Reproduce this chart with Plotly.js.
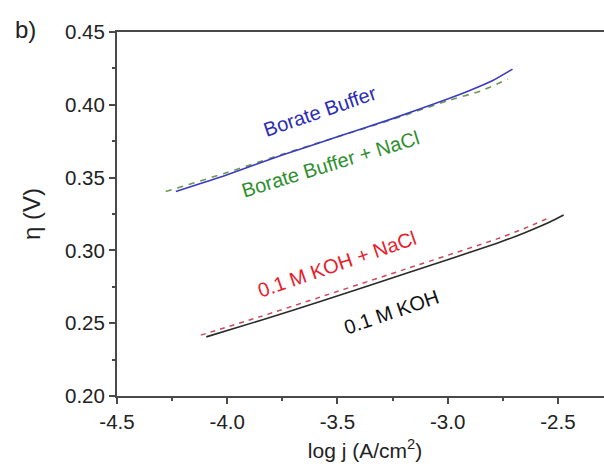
<!DOCTYPE html>
<html>
<head>
<meta charset="utf-8">
<script src="https://cdn.plot.ly/plotly-3.0.1.min.js"></script>
<style>
html,body{margin:0;padding:0;overflow:hidden;background:#fff;width:604px;height:468px;}
#chart{width:613px;height:468px;}
</style>
</head>
<body>
<div id="chart"></div>
<script>
// Borate Buffer (blue, solid)
const borateX = [-4.233, -4.0, -3.75, -3.5, -3.25, -3.0, -2.9, -2.8, -2.706];
const borateY = [0.3405, 0.352, 0.3655, 0.378, 0.3905, 0.4040, 0.4098, 0.4163, 0.4245];
// Borate Buffer + NaCl (green, dashed)
const borateNaClX = [-4.279, -4.0, -3.75, -3.5, -3.25, -3.0, -2.85, -2.726];
const borateNaClY = [0.3404, 0.3535, 0.366, 0.378, 0.390, 0.4028, 0.4095, 0.4177];
// 0.1 M KOH (black, solid)
const kohX = [-4.095, -3.85, -3.557, -3.17, -2.776, -2.65, -2.534, -2.474];
const kohY = [0.2406, 0.2519, 0.2659, 0.2852, 0.3049, 0.3122, 0.3197, 0.3243];
// 0.1 M KOH + NaCl (red, dashed)
const kohNaClX = [-4.12, -3.85, -3.557, -3.17, -2.776, -2.65, -2.534];
const kohNaClY = [0.2418, 0.2545, 0.2690, 0.2882, 0.3079, 0.3152, 0.3228];

const seriesNames = ["Borate Buffer", "Borate Buffer + NaCl", "0.1 M KOH + NaCl", "0.1 M KOH"];
const xTickVals = [-4.5, -4.0, -3.5, -3.0, -2.5];
const xTickText = ["-4.5", "-4.0", "-3.5", "-3.0", "-2.5"];
const yTickVals = [0.20, 0.25, 0.30, 0.35, 0.40, 0.45];
const yTickText = ["0.20", "0.25", "0.30", "0.35", "0.40", "0.45"];

const FONT = "Liberation Sans, Arial, Helvetica, sans-serif";
const axisColor = "#4a4a4a";
const TICK = 20.5;

const traces = [
  {x: borateNaClX, y: borateNaClY, mode: "lines", name: seriesNames[1],
   line: {color: "#6a9a52", width: 1.6, dash: "6px,6px", shape: "spline", smoothing: 0.5}},
  {x: borateX, y: borateY, mode: "lines", name: seriesNames[0],
   line: {color: "#3b3bc4", width: 1.6, shape: "spline", smoothing: 0.5}},
  {x: kohX, y: kohY, mode: "lines", name: seriesNames[3],
   line: {color: "#2a2a2a", width: 1.6, shape: "spline", smoothing: 0.5}},
  {x: kohNaClX, y: kohNaClY, mode: "lines", name: seriesNames[2],
   line: {color: "#cc4a5a", width: 1.5, dash: "5px,5px", shape: "spline", smoothing: 0.5}}
];

const layout = {
  width: 613, height: 468,
  margin: {l: 117, r: 0, t: 32, b: 72},
  paper_bgcolor: "#fff", plot_bgcolor: "#fff",
  showlegend: false,
  font: {family: FONT, color: "#222", size: TICK},
  xaxis: {
    range: [-4.5, -2.25], tickvals: xTickVals, ticktext: xTickText,
    showgrid: false, zeroline: false,
    showline: true, linecolor: axisColor, linewidth: 2, mirror: true,
    ticks: "outside", ticklen: 6, tickwidth: 2, tickcolor: axisColor,
    minor: {dtick: 0.25, ticks: "outside", ticklen: 3, tickwidth: 2, tickcolor: axisColor},
    tickfont: {size: TICK, family: FONT, color: "#222"},
    title: {text: "log j (A/cm<sup>2</sup>)", font: {size: 21, family: FONT, color: "#222"}, standoff: 12}
  },
  yaxis: {
    range: [0.20, 0.45], tickvals: yTickVals, ticktext: yTickText,
    showgrid: false, zeroline: false,
    showline: true, linecolor: axisColor, linewidth: 2,
    ticks: "outside", ticklen: 6, tickwidth: 2, tickcolor: axisColor,
    minor: {dtick: 0.025, ticks: "outside", ticklen: 3, tickwidth: 2, tickcolor: axisColor},
    tickfont: {size: TICK, family: FONT, color: "#222"},
    title: {text: "η (V)", font: {size: 24, family: FONT, color: "#222"}, standoff: 18}
  },
  annotations: [
    {x: -3.577, y: 0.3959, xref: "x", yref: "y", text: seriesNames[0], showarrow: false,
     textangle: -19, font: {size: 20, family: FONT, color: "#2b2bb8"}},
    {x: -3.532, y: 0.3595, xref: "x", yref: "y", text: seriesNames[1], showarrow: false,
     textangle: -17, font: {size: 20, family: FONT, color: "#2f8f2f"}},
    {x: -3.5, y: 0.2904, xref: "x", yref: "y", text: seriesNames[2], showarrow: false,
     textangle: -19, font: {size: 20, family: FONT, color: "#e8202c"}},
    {x: -3.255, y: 0.2576, xref: "x", yref: "y", text: seriesNames[3], showarrow: false,
     textangle: -19, font: {size: 20, family: FONT, color: "#111"}},
    {x: -0.21, y: 1.008, xref: "paper", yref: "paper", text: "b)", showarrow: false,
     xanchor: "left", yanchor: "middle", font: {size: 24, family: FONT, color: "#222"}}
  ]
};

Plotly.newPlot("chart", traces, layout, {displayModeBar: false, staticPlot: true});
</script>
</body>
</html>
